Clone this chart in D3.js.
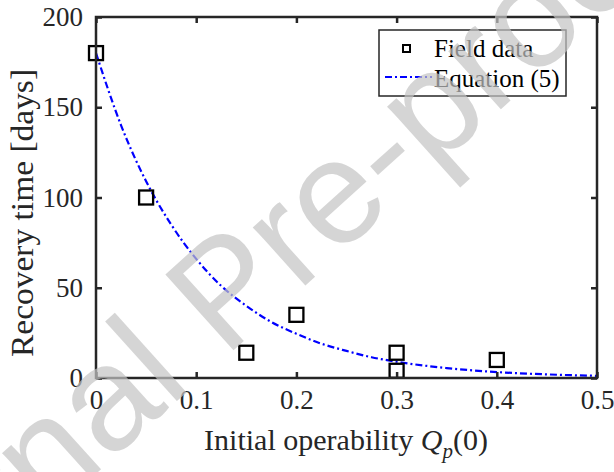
<!DOCTYPE html>
<html>
<head>
<meta charset="utf-8">
<script src="https://cdn.jsdelivr.net/npm/d3@7"></script>
<style>
    body { margin: 0; background: #fff; }
    svg { display: block; }
</style>
</head>
<body>
<svg id="chart" width="614" height="472" font-family="'Liberation Serif', 'Times New Roman', serif"></svg>
<script>
// field data
const fieldX = [0, 0.05, 0.15, 0.2, 0.3, 0.3, 0.4];
const fieldY = [180, 100, 14, 35, 14, 4, 10];

// equation (5) curve, read at regular steps
const eqX = [0, 0.025, 0.05, 0.075, 0.1, 0.125, 0.15, 0.175, 0.2, 0.225, 0.25, 0.275, 0.3, 0.35, 0.4, 0.45, 0.5];
const eqY = [180, 140, 109, 85, 66, 51, 40, 31, 24.5, 19, 15, 11.5, 9, 5.5, 3.3, 2, 1.2];

const xTicks = [0, 0.1, 0.2, 0.3, 0.4, 0.5];
const yTicks = [0, 50, 100, 150, 200];

const serif = "'Liberation Serif', 'Times New Roman', serif";
const svg = d3.select('#chart');
const axisColor = '#262626';

const plot = {left: 96, right: 597, top: 17, bottom: 378};

const x = d3.scaleLinear().domain([0, 0.5]).range([plot.left, plot.right]);
const y = d3.scaleLinear().domain([0, 200]).range([plot.bottom, plot.top]);

// equation line
const line = d3.line()
    .x(d => x(d[0]))
    .y(d => y(d[1]))
    .curve(d3.curveMonotoneX);

svg.append('path')
    .datum(d3.zip(eqX, eqY))
    .attr('d', line)
    .attr('fill', 'none')
    .attr('stroke', '#0000ff')
    .attr('stroke-width', 2.2)
    .attr('stroke-dasharray', '7,3,2,3');

// field data squares
const sq = 14;
svg.append('g')
    .selectAll('rect')
    .data(d3.zip(fieldX, fieldY))
    .join('rect')
    .attr('x', d => x(d[0]) - sq / 2)
    .attr('y', d => y(d[1]) - sq / 2)
    .attr('width', sq)
    .attr('height', sq)
    .attr('fill', 'none')
    .attr('stroke', '#000')
    .attr('stroke-width', 2.3);

// axes, ticks inward on all four sides
const tickLen = 6;
const fmtX = d => d === 0 ? '0' : d3.format('.1f')(d);

const gx = svg.append('g')
    .attr('transform', `translate(0,${plot.bottom})`)
    .call(d3.axisBottom(x).tickValues(xTicks).tickSize(-tickLen).tickPadding(12).tickFormat(fmtX));
const gxTop = svg.append('g')
    .attr('transform', `translate(0,${plot.top})`)
    .call(d3.axisTop(x).tickValues(xTicks).tickSize(-tickLen).tickFormat(''));
const gy = svg.append('g')
    .attr('transform', `translate(${plot.left},0)`)
    .call(d3.axisLeft(y).tickValues(yTicks).tickSize(-tickLen).tickPadding(13));
const gyRight = svg.append('g')
    .attr('transform', `translate(${plot.right},0)`)
    .call(d3.axisRight(y).tickValues(yTicks).tickSize(-tickLen).tickFormat(''));

[gx, gxTop, gy, gyRight].forEach(g => {
    g.attr('font-family', serif).attr('font-size', 27);
    g.select('.domain').remove();
    g.selectAll('.tick line')
        .attr('stroke', axisColor)
        .attr('stroke-width', 2.5);
    g.selectAll('.tick text')
        .attr('fill', axisColor)
        .style('font-family', serif);
});

svg.append('rect')
    .attr('x', plot.left)
    .attr('y', plot.top)
    .attr('width', plot.right - plot.left)
    .attr('height', plot.bottom - plot.top)
    .attr('fill', 'none')
    .attr('stroke', axisColor)
    .attr('stroke-width', 2.5);

// axis labels
svg.append('text')
    .attr('transform', 'translate(33,213) rotate(-90) scale(1.08,1)')
    .attr('text-anchor', 'middle')
    .attr('font-size', 31)
    .attr('fill', axisColor)
    .text('Recovery time [days]');

const xl = svg.append('text')
    .attr('x', 346)
    .attr('y', 450)
    .attr('text-anchor', 'middle')
    .attr('font-size', 30)
    .attr('fill', axisColor);
xl.append('tspan').text('Initial operability ');
xl.append('tspan').attr('font-style', 'italic').text('Q');
xl.append('tspan').attr('font-style', 'italic').attr('font-size', 21).attr('dy', 8).text('p');
xl.append('tspan').attr('dy', -8).text('(0)');

// legend
const legend = svg.append('g');
legend.append('rect')
    .attr('x', 379)
    .attr('y', 30)
    .attr('width', 187)
    .attr('height', 66)
    .attr('fill', '#fff')
    .attr('stroke', axisColor)
    .attr('stroke-width', 1.5);
legend.append('rect')
    .attr('x', 403)
    .attr('y', 45)
    .attr('width', 7)
    .attr('height', 7)
    .attr('fill', 'none')
    .attr('stroke', '#000')
    .attr('stroke-width', 2);
legend.append('line')
    .attr('x1', 385)
    .attr('x2', 432)
    .attr('y1', 77)
    .attr('y2', 77)
    .attr('stroke', '#0000ff')
    .attr('stroke-width', 2.2)
    .attr('stroke-dasharray', '7,3,2,3');
legend.append('text')
    .attr('x', 434)
    .attr('y', 57)
    .attr('font-size', 25)
    .attr('fill', '#000')
    .text('Field data');
legend.append('text')
    .attr('x', 434)
    .attr('y', 87)
    .attr('font-size', 25)
    .attr('fill', '#000')
    .text('Equation (5)');

// watermark
svg.append('text')
    .attr('transform', 'translate(258,328) rotate(-42)')
    .attr('text-anchor', 'middle')
    .attr('font-size', 148)
    .attr('font-family', "'Liberation Sans', Arial, sans-serif")
    .attr('fill', '#c4c4c4')
    .attr('opacity', 0.7)
    .text('Journal Pre-proof');
</script>
</body>
</html>
